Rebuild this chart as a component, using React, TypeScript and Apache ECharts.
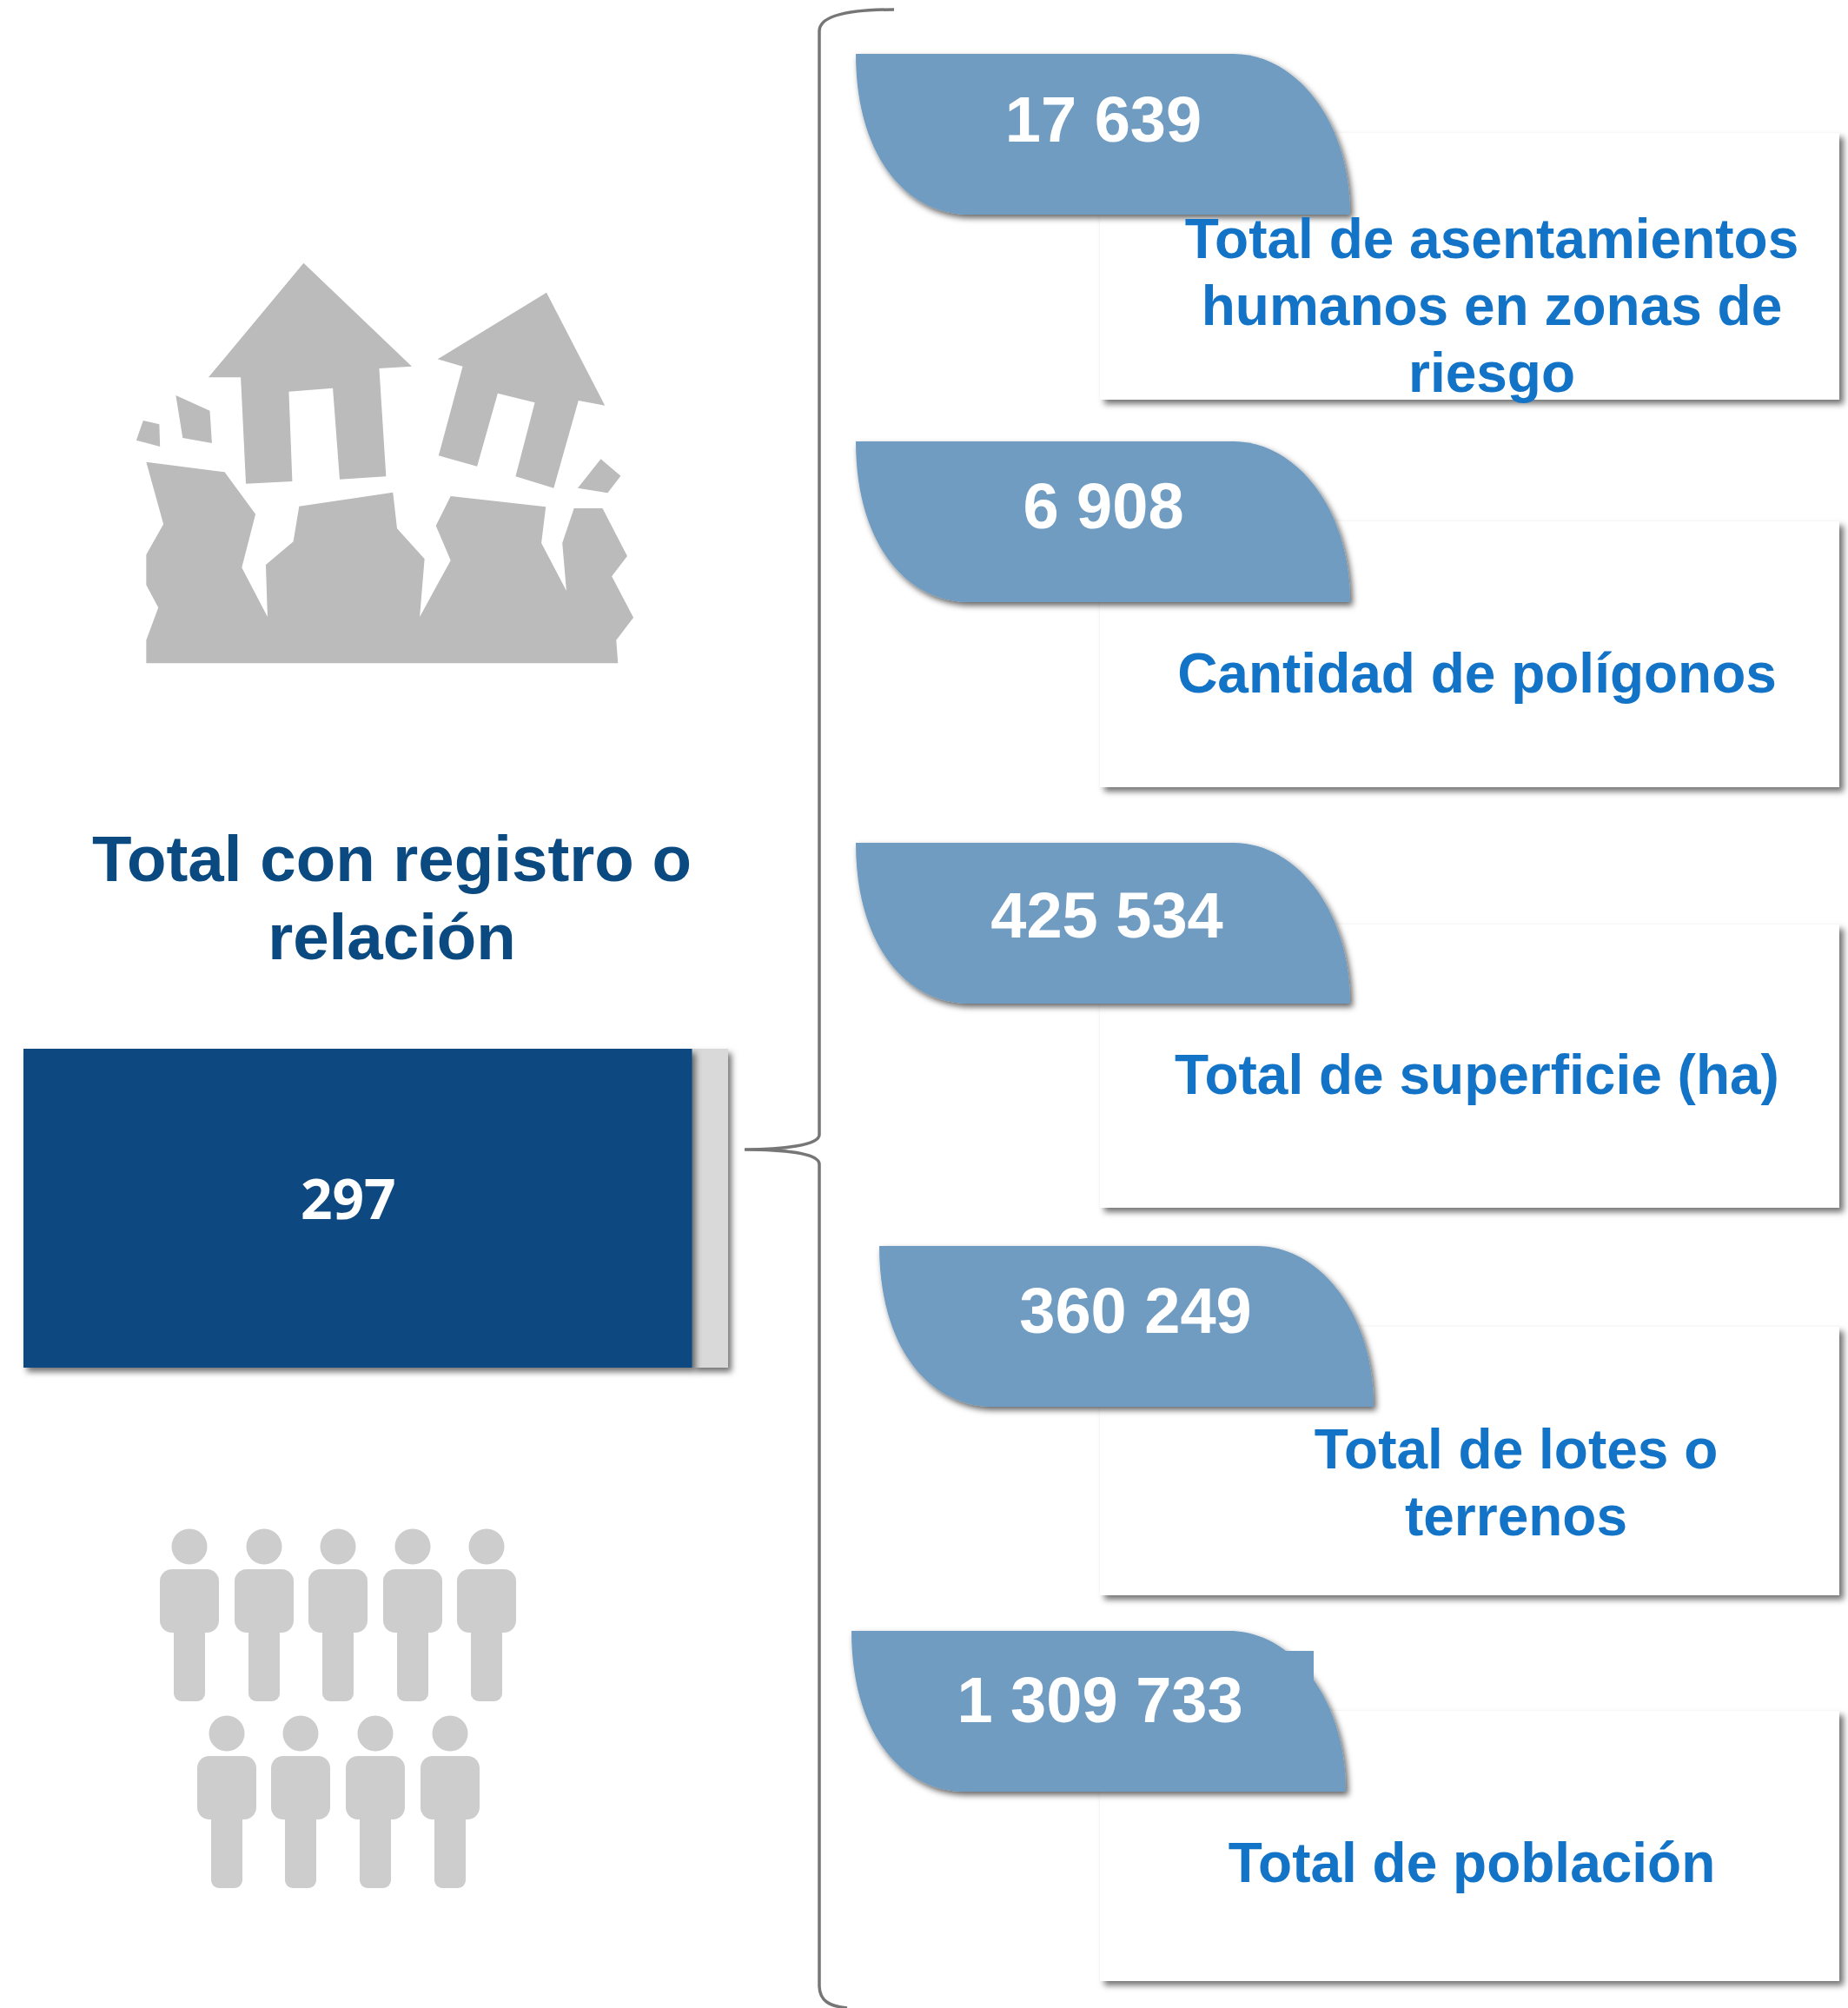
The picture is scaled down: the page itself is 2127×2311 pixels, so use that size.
import React, { useEffect, useRef } from "react";
import * as echarts from "echarts";

const barCategories = ["Total con registro o relación"];
const withRecord = [297];
const withoutRecord = [16];
const barLabel = "297";
const titleLines = ["Total con registro o", "relación"];
const cardValues = ["17 639", "6 908", "425 534", "360 249", "1 309 733"];
const cardLabels = [
  ["Total de asentamientos", "humanos en zonas de", "riesgo"],
  ["Cantidad de polígonos"],
  ["Total de superficie (ha)"],
  ["Total de lotes o", "terrenos"],
  ["Total de población"],
];

// layout of the infographic pieces
const blueCards = [
  { x: 985, y: 62, tx: 1270, ty: 137 },
  { x: 985, y: 508, tx: 1270, ty: 582 },
  { x: 985, y: 970, tx: 1274, ty: 1053 },
  { x: 1012, y: 1434, tx: 1307, ty: 1508 },
  { x: 980, y: 1877, tx: 1266, ty: 1956 },
];
const whiteCards = [
  { y: 153, b: 460, cx: 1717, ly: [274.5, 351.5, 428.5] },
  { y: 600, b: 906, cx: 1700, ly: [774.5] },
  { y: 1064, b: 1390, cx: 1700, ly: [1236.5] },
  { y: 1527, b: 1836, cx: 1745, ly: [1667.5, 1744.5] },
  { y: 1969, b: 2280, cx: 1694, ly: [2143.5] },
];

const housePolys: number[][][] = [
  [[555,68],[870,425],[775,432],[795,805],[660,815],[640,500],[512,512],[522,822],[387,830],[372,463],[278,463]],
  [[1262,170],[1432,560],[1355,543],[1283,845],[1172,805],[1228,550],[1120,518],[1060,770],[948,733],[1018,425],[945,400]],
  [[88,612],[135,625],[137,702],[68,680]],
  [[183,525],[282,578],[288,690],[203,672]],
  [[1420,745],[1478,803],[1440,862],[1353,845]],
  [[97,755],[325,790],[415,935],[375,1120],[450,1290],[445,1110],[525,1030],[542,908],[815,860],[827,985],[907,1090],[893,1290],[983,1095],[940,975],[983,873],[1260,910],[1247,1035],[1320,1200],[1308,1035],[1342,915],[1425,915],[1497,1080],[1452,1150],[1515,1292],[1465,1370],[1470,1450],[97,1450],[97,1370],[132,1258],[97,1180],[97,1075],[147,970]],
];

const peopleRows = [
  { y: 1780, xs: [218, 304, 389, 475, 560] },
  { y: 1995, xs: [261, 346, 432, 518] },
];

const SANS = '"Liberation Sans", Arial, sans-serif';

echarts.graphic.registerShape(
  "diagCard",
  echarts.graphic.extendPath(
    "M0,0 L435,0 C505,0 569,75 569,185 L130,185 C60,185 0,120 0,0 Z",
    {}
  )
);
echarts.graphic.registerShape(
  "brace",
  echarts.graphic.extendPath(
    "M1029,11 C985,11 943,16 943,36 L943,1306 C943,1318 900,1323 857,1323 C900,1323 943,1327 943,1340 L943,2285 C943,2303 955,2309 975,2311",
    {}
  )
);

function buildGraphics() {
  const els: any[] = [];
  // house
  housePolys.forEach((poly) => {
    els.push({
      type: "polygon",
      shape: { points: poly.map(([x, y]) => [130 + x / 2.529, 280 + y / 3]) },
      style: { fill: "#BBBBBB" },
    });
  });
  // people
  peopleRows.forEach((row) => {
    row.xs.forEach((cx) => {
      const y = row.y;
      els.push({ type: "circle", shape: { cx, cy: y, r: 20.5 }, style: { fill: "#CDCDCD" } });
      els.push({ type: "rect", shape: { x: cx - 34, y: y + 26, width: 68, height: 73, r: 14 }, style: { fill: "#CDCDCD" } });
      els.push({ type: "rect", shape: { x: cx - 18, y: y + 80, width: 36, height: 98, r: 9 }, style: { fill: "#CDCDCD" } });
    });
  });
  // brace
  els.push({
    type: "brace",
    style: { fill: "none", stroke: "#767676", lineWidth: 3.5 },
  });
  // title
  titleLines.forEach((t, i) => {
    els.push({
      type: "text",
      x: 451,
      y: 988 + i * 90,
      style: {
        text: t,
        font: `bold 74.5px ${SANS}`,
        fill: "#0A4A80",
        textAlign: "center",
        textVerticalAlign: "middle",
      },
    });
  });
  // white cards
  whiteCards.forEach((c, i) => {
    els.push({
      type: "rect",
      shape: { x: 1266, y: c.y, width: 851, height: c.b - c.y },
      style: {
        fill: "#FFFFFF",
        shadowColor: "rgba(0,0,0,0.55)",
        shadowBlur: 7,
        shadowOffsetX: 5,
        shadowOffsetY: 5,
      },
    });
    cardLabels[i].forEach((t, j) => {
      els.push({
        type: "text",
        x: c.cx,
        y: c.ly[j],
        z: 5,
        style: {
          text: t,
          font: `bold 64px ${SANS}`,
          fill: "#1273C7",
          textAlign: "center",
          textVerticalAlign: "middle",
        },
      });
    });
  });
  // blue cards
  blueCards.forEach((c, i) => {
    els.push({
      type: "diagCard",
      x: c.x,
      y: c.y,
      z: 3,
      style: {
        fill: "#719CC2",
        shadowColor: "rgba(0,0,0,0.6)",
        shadowBlur: 7,
        shadowOffsetX: 3,
        shadowOffsetY: 4,
      },
    });
    els.push({
      type: "text",
      x: c.tx,
      y: c.ty,
      z: 6,
      style: {
        text: cardValues[i],
        font: `bold 74px ${SANS}`,
        fill: "#FFFFFF",
        textAlign: "center",
        textVerticalAlign: "middle",
      },
    });
  });
  // stray rectangle on the last card
  els.push({
    type: "rect",
    z: 4,
    shape: { x: 1478, y: 1900, width: 34, height: 36 },
    style: { fill: "#719CC2" },
  });
  return els;
}

export default function App() {
  const ref = useRef<HTMLDivElement>(null);
  useEffect(() => {
    document.body.style.margin = "0";
    document.body.style.background = "#fff";
    const chart = echarts.init(ref.current!, null, { renderer: "svg" });
    const shadow = {
      shadowColor: "rgba(0,0,0,0.55)",
      shadowBlur: 7,
      shadowOffsetX: 4,
      shadowOffsetY: 5,
    };
    chart.setOption({
      animation: false,
      backgroundColor: "#FFFFFF",
      grid: { left: 27, top: 1207, width: 811, height: 367 },
      xAxis: { type: "value", min: 0, max: withRecord[0] + withoutRecord[0], show: false },
      yAxis: { type: "category", data: barCategories, show: false },
      graphic: { elements: buildGraphics() },
      series: [
        {
          type: "bar",
          stack: "total",
          data: withRecord,
          barWidth: "100%",
          z: 3,
          itemStyle: { color: "#094A80", ...shadow },
          label: {
            show: true,
            position: "inside",
            offset: [-11, -12],
            formatter: () => barLabel,
            color: "#FFFFFF",
            fontFamily: "Open Sans",
            fontWeight: "bold",
            fontSize: 64,
          },
        },
        {
          type: "bar",
          stack: "total",
          data: withoutRecord,
          barWidth: "100%",
          z: 2,
          itemStyle: { color: "#D9D9D9", ...shadow },
        },
      ],
    });
    return () => chart.dispose();
  }, []);
  return <div ref={ref} style={{ width: 2127, height: 2311 }} />;
}
